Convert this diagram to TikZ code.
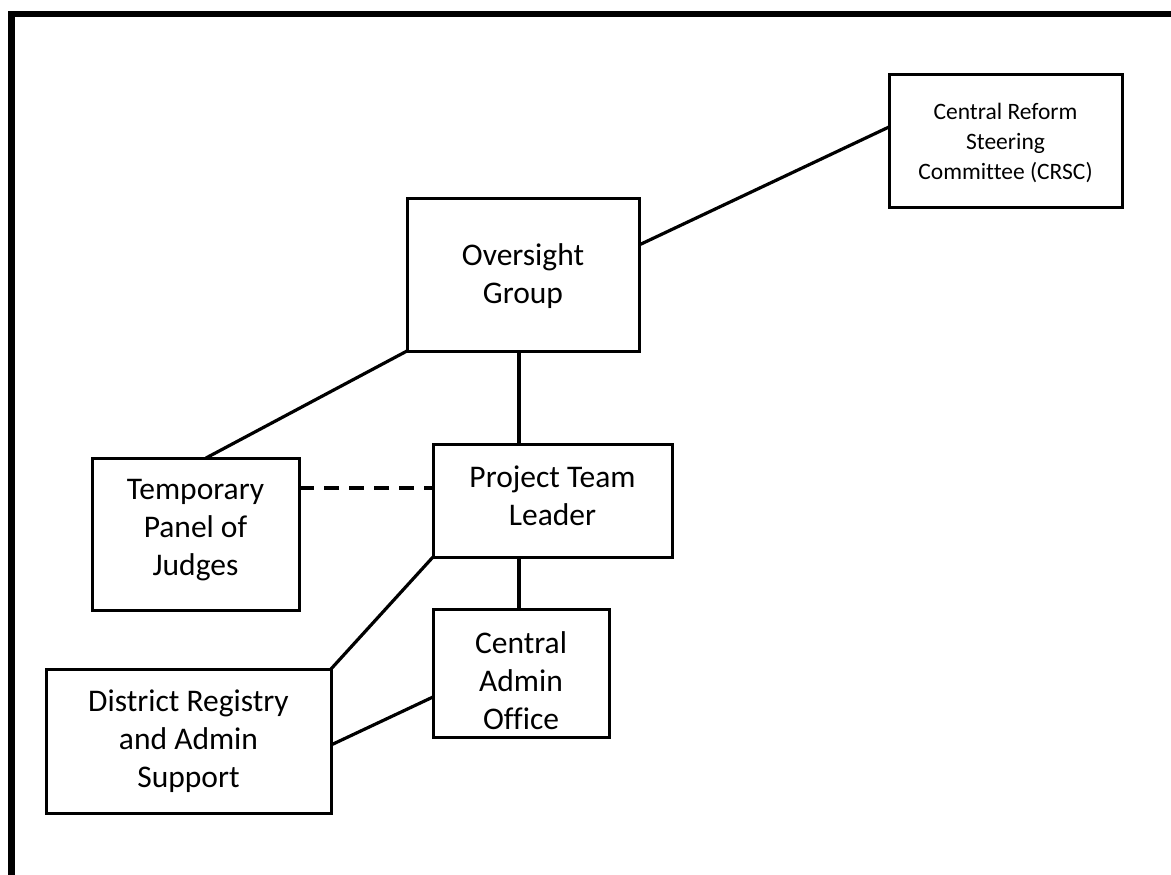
\documentclass[tikz,border=0pt]{standalone}
\usepackage{fontspec}
\setmainfont{Carlito}[Ligatures=NoCommon]
\usetikzlibrary{calc}

\tikzset{
  box/.style={draw, line width=3pt, inner sep=0pt, outer sep=0pt, rectangle},
  big/.style={align=center, inner sep=0pt, font=\fontsize{31.5}{38}\selectfont},
  small/.style={align=center, inner sep=0pt, font=\fontsize{23.5}{30}\selectfont},
  link/.style={line width=3.2pt},
  dashlink/.style={line width=3.2pt, dash pattern=on 15pt off 10pt},
  frame/.style={line width=6.5pt, line join=miter}
}

\begin{document}
\begin{tikzpicture}[x=1pt, y=-1pt]
  \useasboundingbox (0,0) rectangle (1171,875);

  % outer frame, open to the right and bottom
  \draw[frame] (1175,14) -- (11.5,14) -- (11.5,880);

  % boxes
  \node[box, minimum width=233pt, minimum height=132pt] (crsc) at (1005.5,141) {};
  \node[box, minimum width=232pt, minimum height=153pt] (og)   at (523,274.5) {};
  \node[box, minimum width=239pt, minimum height=113pt] (ptl)  at (552.5,500.5) {};
  \node[box, minimum width=207pt, minimum height=152pt] (tp)   at (195.5,534) {};
  \node[box, minimum width=176pt, minimum height=128pt] (cao)  at (521,673) {};
  \node[box, minimum width=285pt, minimum height=144pt] (dr)   at (188.5,741) {};

  % labels
  \node[small] (crscT) at (1005.5,143) {Central Reform\\Steering\\Committee (CRSC)};
  \node[big]   (ogT)   at (523,276)    {Oversight\\Group};
  \node[big]   (ptlT)  at (552.5,496)  {Project Team\\Leader};
  \node[big]   (tpT)   at (195.5,530)  {Temporary\\Panel of\\Judges};
  \node[big]   (caoT)  at (521,681)    {Central\\Admin\\Office};
  \node[big]   (drT)   at (188.5,741.5){District Registry\\and Admin\\Support};

  % connectors
  \draw[link] ($(og.north east)+(0,47)$) -- ($(crsc.north west)+(0,52)$);
  \draw[link] (og.south west) -- ($(tp.north west)+(114,0)$);
  \coordinate (ogB) at ($(og.south)+(-4,0)$);
  \draw[link] (ogB) -- (ogB |- ptl.north);
  \coordinate (dashA) at ($(tp.north east)+(0,30)$);
  \draw[dashlink] (dashA) -- (dashA -| ptl.west);
  \coordinate (ptlB) at ($(ptl.south west)+(86,0)$);
  \draw[link] (ptlB) -- (ptlB |- cao.north);
  \draw[link] (ptl.south west) -- (dr.north east);
  \draw[link] ($(dr.north east)+(0,76)$) -- ($(cao.north west)+(0,88)$);
\end{tikzpicture}
\end{document}
